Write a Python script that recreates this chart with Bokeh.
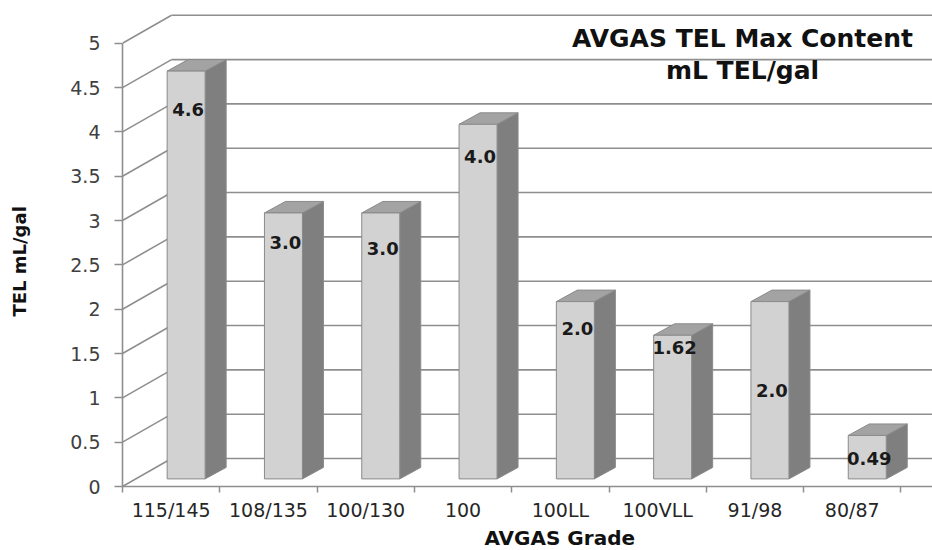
import math
from bokeh.plotting import figure
from bokeh.models import FixedTicker, Label, Range1d, Title
from bokeh.embed import file_html
from bokeh.resources import INLINE
from bokeh.core.properties import value

# ---------------- data ----------------
grades = ["115/145", "108/135", "100/130", "100", "100LL", "100VLL", "91/98", "80/87"]
tel = [4.6, 3.0, 3.0, 4.0, 2.0, 1.62, 2.0, 0.49]
bar_labels = ["4.6", "3.0", "3.0", "4.0", "2.0", "1.62", "2.0", "0.49"]
label_at = [4.17, 2.67, 2.60, 3.64, 1.70, 1.48, 1.00, 0.23]   # value where each data label sits
y_ticks = [0, 0.5, 1, 1.5, 2, 2.5, 3, 3.5, 4, 4.5, 5]
y_tick_labels = ["0", "0.5", "1", "1.5", "2", "2.5", "3", "3.5", "4", "4.5", "5"]
title_lines = ["AVGAS TEL Max Content", "mL TEL/gal"]
x_title = "AVGAS Grade"
y_title = "TEL mL/gal"

# ---------------- layout ----------------
W, H = 932, 550
LEFT, BOTTOM = 122, 64
XPX = 97.3      # pixels per category
YPX = 88.65     # pixels per unit of value
x_end = (W - LEFT) / XPX
y_end = (H - BOTTOM) / YPX

# 3D geometry (in data units)
WALL_DX, WALL_DY = 49 / XPX, 28 / YPX
BAR_OX, BAR_OY = 15 / XPX, 7.6 / YPX
BAR_W = 38 / XPX
DEP_DX, DEP_DY = 21 / XPX, 11.5 / YPX

FONT = "DejaVu Sans"
GRID = "#8e8e8e"

p = figure(width=W, height=H, x_range=Range1d(0, x_end), y_range=Range1d(0, y_end),
           output_backend="svg", toolbar_location=None,
           min_border_left=LEFT, min_border_bottom=BOTTOM, min_border_top=0, min_border_right=0,
           background_fill_color="white", border_fill_color="white", outline_line_color=None)
p.xgrid.visible = False
p.ygrid.visible = False

# back wall gridlines and left wall diagonals
n = len(grades)
p.segment(x0=[WALL_DX] * len(y_ticks), y0=[t + WALL_DY for t in y_ticks],
          x1=[n + 2] * len(y_ticks), y1=[t + WALL_DY for t in y_ticks],
          line_color=GRID, line_width=1.6)
p.segment(x0=[0] * len(y_ticks), y0=y_ticks,
          x1=[WALL_DX] * len(y_ticks), y1=[t + WALL_DY for t in y_ticks],
          line_color=GRID, line_width=1.6)

# bars
lefts = [i + 0.5 + BAR_OX - BAR_W / 2 for i in range(n)]
rights = [l + BAR_W for l in lefts]
tops = [v + BAR_OY for v in tel]
side_xs, side_ys, top_xs, top_ys = [], [], [], []
for l, r, t in zip(lefts, rights, tops):
    side_xs.append([r, r + DEP_DX, r + DEP_DX, r])
    side_ys.append([BAR_OY, BAR_OY + DEP_DY, t + DEP_DY, t])
    top_xs.append([l, l + DEP_DX, r + DEP_DX, r])
    top_ys.append([t, t + DEP_DY, t + DEP_DY, t])

p.patches(side_xs, side_ys, fill_color="#7f7f7f", line_color="#8a8a8a", line_width=1)
p.patches(top_xs, top_ys, fill_color="#a3a3a3", line_color="#8a8a8a", line_width=1)
p.quad(left=lefts, right=rights, bottom=[BAR_OY] * n, top=tops,
       fill_color="#d2d2d2", line_color="#8a8a8a", line_width=1)

# data labels
p.text(x=[(l + r) / 2 + 2 / XPX for l, r in zip(lefts, rights)], y=[v + BAR_OY for v in label_at],
       text=bar_labels, text_font=value(FONT), text_font_style="bold",
       text_font_size="18px", text_color="#1a1a1a",
       text_align="center", text_baseline="middle")

# axes
yax = p.yaxis[0]
yax.ticker = FixedTicker(ticks=y_ticks, minor_ticks=[])
yax.major_label_overrides = {t: s for t, s in zip(y_ticks, y_tick_labels)}
yax.bounds = (0, 5)
yax.axis_line_color = GRID
yax.axis_line_width = 1.6
yax.major_tick_line_color = GRID
yax.major_tick_line_width = 1.5
yax.major_tick_out = 8
yax.major_tick_in = 0
yax.minor_tick_line_color = None
yax.major_label_standoff = 14
yax.major_label_text_font = FONT
yax.major_label_text_font_size = "19px"
yax.major_label_text_color = "#404040"

xax = p.xaxis[0]
centers = [i + 0.5 for i in range(n)]
xax.ticker = FixedTicker(ticks=centers, minor_ticks=list(range(n + 1)))
xax.major_label_overrides = {c: g for c, g in zip(centers, grades)}
xax.axis_line_color = GRID
xax.axis_line_width = 1.6
xax.major_tick_out = 0
xax.major_tick_in = 0
xax.minor_tick_out = 6
xax.minor_tick_in = 0
xax.minor_tick_line_color = GRID
xax.minor_tick_line_width = 1.5
xax.major_label_standoff = 6
xax.major_label_text_font = FONT
xax.major_label_text_font_size = "19px"
xax.major_label_text_color = "#262626"

# axis titles
p.add_layout(Title(text=x_title, align="left", offset=362, standoff=0,
                   text_font=FONT, text_font_style="bold", text_font_size="20px",
                   text_color="#111111"), "below")
# blank spacer panel between the y axis and its title
p.add_layout(Title(text=" ", standoff=0, text_font=FONT, text_font_size="31px"), "left")
p.add_layout(Title(text=y_title, align="left", offset=170, standoff=0,
                   text_font=FONT, text_font_style="bold", text_font_size="18px",
                   text_color="#111111"), "left")

# chart title inside the plot area
p.add_layout(Label(x=(742 - LEFT) / XPX, y=(H - BOTTOM - 38) / YPX, text=title_lines[0],
                   text_font=FONT, text_font_style="bold", text_font_size="25px",
                   text_color="#111111", text_align="center", text_baseline="middle"))
p.add_layout(Label(x=(742 - LEFT) / XPX, y=(H - BOTTOM - 70) / YPX, text=title_lines[1],
                   text_font=FONT, text_font_style="bold", text_font_size="25px",
                   text_color="#111111", text_align="center", text_baseline="middle"))

open("out.html", "w").write(file_html(p, INLINE))
